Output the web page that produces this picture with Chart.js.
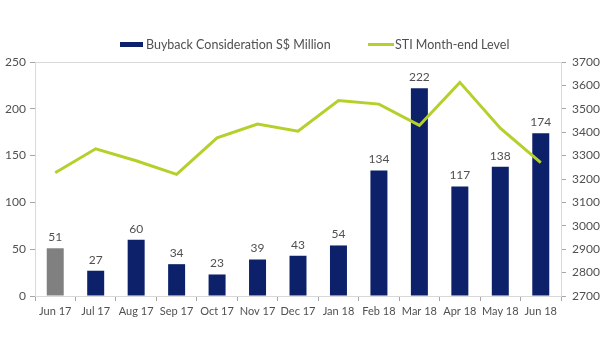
<!DOCTYPE html>
<html>
<head>
<meta charset="utf-8">
<script src="https://cdn.jsdelivr.net/npm/chart.js@4"></script>
<style>
  html, body { margin: 0; padding: 0; background: #ffffff; }
  #wrap { width: 600px; height: 360px; position: relative; }
</style>
</head>
<body>
<div id="wrap"><canvas id="c" width="600" height="360"></canvas></div>
<script>
const categories = ["Jun 17","Jul 17","Aug 17","Sep 17","Oct 17","Nov 17","Dec 17","Jan 18","Feb 18","Mar 18","Apr 18","May 18","Jun 18"];
const buybackValues = [51, 27, 60, 34, 23, 39, 43, 54, 134, 222, 117, 138, 174];
const stiValues = [3227, 3329, 3278, 3220, 3376, 3435, 3404, 3535, 3520, 3429, 3613, 3417, 3270];
const buybackLabel = "Buyback Consideration S$ Million";
const stiLabel = "STI Month-end Level";

const NAVY = "#0c2169";
const GREY_BAR = "#808080";
const LIME = "#b5cf2b";
const TEXT = "#505050";
const AXIS = "#a6a6a6";
const FONT = "Lato, 'Liberation Sans', sans-serif";

const barColors = buybackValues.map((v, i) => i === 0 ? GREY_BAR : NAVY);

const extras = {
  id: 'extras',
  beforeDatasetsDraw(chart) {
    const { ctx, chartArea: a } = chart;
    ctx.save();
    ctx.strokeStyle = "#d9d9d9";
    ctx.lineWidth = 1;
    ctx.strokeRect(Math.round(a.left) + 0.5, Math.round(a.top) + 0.5, Math.round(a.right - a.left), Math.round(a.bottom - a.top));
    ctx.restore();
  },
  afterDraw(chart) {
    const { ctx } = chart;
    ctx.save();
    // value labels above bars
    const barIdx = chart.data.datasets.findIndex(d => d.type === 'bar');
    const meta = chart.getDatasetMeta(barIdx);
    ctx.fillStyle = TEXT;
    ctx.font = "12px " + FONT;
    ctx.textAlign = "center";
    ctx.textBaseline = "bottom";
    meta.data.forEach((el, i) => {
      ctx.fillText(String(chart.data.datasets[barIdx].data[i]), el.x, el.y - 5);
    });
    // legend
    ctx.fillStyle = NAVY;
    ctx.fillRect(120, 42, 23, 5);
    ctx.fillStyle = TEXT;
    ctx.textAlign = "left";
    ctx.textBaseline = "middle";
    ctx.font = "12.5px " + FONT;
    ctx.fillText(buybackLabel, 146, 44.5);
    ctx.strokeStyle = LIME;
    ctx.lineWidth = 3;
    ctx.beginPath();
    ctx.moveTo(368, 44.5);
    ctx.lineTo(394, 44.5);
    ctx.stroke();
    ctx.fillText(stiLabel, 395, 44.5);
    ctx.restore();
  }
};

new Chart(document.getElementById('c'), {
  type: 'bar',
  data: {
    labels: categories,
    datasets: [
      {
        type: 'line',
        label: stiLabel,
        data: stiValues,
        yAxisID: 'y1',
        borderColor: LIME,
        backgroundColor: LIME,
        borderWidth: 3,
        pointRadius: 0,
        tension: 0,
        order: 0
      },
      {
        type: 'bar',
        label: buybackLabel,
        data: buybackValues,
        yAxisID: 'y',
        backgroundColor: barColors,
        categoryPercentage: 1,
        barPercentage: 0.42,
        order: 1
      }
    ]
  },
  options: {
    responsive: false,
    animation: false,
    devicePixelRatio: 1,
    layout: { padding: { top: 62, bottom: 0, left: 0, right: 0 } },
    plugins: { legend: { display: false }, tooltip: { enabled: false } },
    scales: {
      x: {
        offset: true,
        grid: { offset: true, drawOnChartArea: false, drawTicks: true, tickLength: 5, color: AXIS },
        border: { display: true, color: AXIS },
        ticks: { color: TEXT, font: { family: FONT, size: 11 }, padding: 4, maxRotation: 0, autoSkip: false },
        afterFit(s) { s.height = 64; }
      },
      y: {
        position: 'left',
        min: 0, max: 250,
        ticks: { stepSize: 50, color: TEXT, font: { family: FONT, size: 12 }, padding: 4 },
        grid: { drawOnChartArea: false, drawTicks: true, tickLength: 5, color: AXIS },
        border: { display: true, color: AXIS },
        afterFit(s) { s.width = 35; }
      },
      y1: {
        position: 'right',
        min: 2700, max: 3700,
        ticks: { stepSize: 100, color: TEXT, font: { family: FONT, size: 12 }, padding: 6,
                 callback: (v) => String(v) },
        grid: { drawOnChartArea: false, drawTicks: true, tickLength: 5, color: AXIS },
        border: { display: true, color: AXIS },
        afterFit(s) { s.width = 39; }
      }
    }
  },
  plugins: [extras]
});
</script>
</body>
</html>
